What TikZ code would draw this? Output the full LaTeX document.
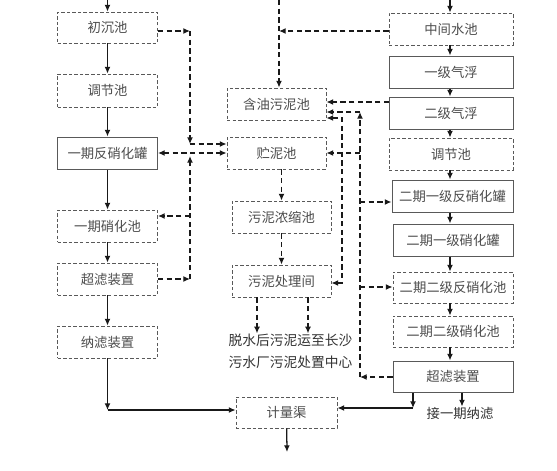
\documentclass[tikz,border=0pt]{standalone}
\usepackage{fontspec}
\setmainfont{Noto Sans CJK SC}
\usetikzlibrary{arrows.meta,calc}
\begin{document}
\begin{tikzpicture}[x=0.75pt,y=-0.75pt,
  font=\fontsize{10}{12}\selectfont,
  sz/.style 2 args={minimum width=#1*0.75pt, minimum height=#2*0.75pt},
  box/.style={draw=black!65, text=black!70, inner sep=0pt, anchor=center},
  dbox/.style={box, dash pattern=on 2.6pt off 1.6pt, line width=0.6pt},
  sbox/.style={box, line width=0.75pt},
  ar/.style={draw=black!90, line width=0.95pt, -{Latex[length=5pt,width=4.4pt]}},
  dar/.style={ar, dash pattern=on 4pt off 2.5pt},
  dar2/.style={dar, {Latex[length=5pt,width=4.4pt]}-{Latex[length=5pt,width=4.4pt]}},
  lbl/.style={text=black!80, inner sep=0pt}
]
\useasboundingbox (0,0) rectangle (557,471);

% left column
\node[dbox, sz={100}{31}] (n1) at (107.5,27.5) {初沉池};
\node[dbox, sz={100}{33}] (n2) at (107.5,90.5) {调节池};
\node[sbox, sz={100}{32}] (n3) at (107.5,153) {一期反硝化罐};
\node[dbox, sz={100}{32}] (n4) at (107.5,226) {一期硝化池};
\node[dbox, sz={100}{32}] (n5) at (107.5,279) {超滤装置};
\node[dbox, sz={100}{32}] (n6) at (107.5,342) {纳滤装置};

% middle column
\node[dbox, sz={99}{32}] (m1) at (276.5,104) {含油污泥池};
\node[dbox, sz={99}{32}] (m2) at (276.5,153) {贮泥池};
\node[dbox, sz={99}{32}] (m3) at (281.5,217) {污泥浓缩池};
\node[dbox, sz={99}{32}] (m4) at (281.5,281) {污泥处理间};
\node[lbl, align=center, font=\fontsize{10.3}{16.5}\selectfont] (tx) at (290.5,351) {脱水后污泥运至长沙\\污水厂污泥处置中心};
\node[dbox, sz={101}{31}] (jl) at (286.5,412.5) {计量渠};

% right column
\node[dbox, sz={124}{32}] (r1) at (451,29) {中间水池};
\node[sbox, sz={124}{32}] (r2) at (451,72) {一级气浮};
\node[sbox, sz={124}{32}] (r3) at (451,113) {二级气浮};
\node[dbox, sz={124}{32}] (r4) at (451,154) {调节池};
\node[sbox, sz={121}{32}] (r5) at (452.5,196) {二期一级反硝化罐};
\node[sbox, sz={120}{32}] (r6) at (453,240) {二期一级硝化罐};
\node[dbox, sz={120}{31}] (r7) at (453,287.5) {二期二级反硝化池};
\node[dbox, sz={120}{31}] (r8) at (453,331.5) {二期二级硝化池};
\node[sbox, sz={120}{31}] (r9) at (453,376.5) {超滤装置};
\node[lbl] (jy) at (460,413) {接一期纳滤};

% coordinates
\coordinate (s1) at (107.5,0);
\coordinate (s2) at (450,0);
\coordinate (s3) at (287,452);
\coordinate (c1) at (107.5,410);
\coordinate (c2) at (413,408);
\coordinate (a1) at (190,31);
\coordinate (a2) at (190,144);
\coordinate (a3) at (190,279);
\coordinate (a4) at (190,156);
\coordinate (a5) at (190,216);
\coordinate (b1) at (279,0);
\coordinate (b2) at (389,102);
\coordinate (b3) at (279,31);
\coordinate (d1) at (360,377);
\coordinate (d2) at (360,112);
\coordinate (d3) at (360,153);
\coordinate (d4) at (360,202);
\coordinate (d5) at (360,287);
\coordinate (e1) at (342,118);
\coordinate (e2) at (342,283);

% solid flow, left
\draw[ar] (s1) -- (n1.north);
\draw[ar] (n1) -- (n2);
\draw[ar] (n2) -- (n3);
\draw[ar] (n3) -- (n4);
\draw[ar] (n4) -- (n5);
\draw[ar] (n5) -- (n6);
\draw[ar] (n6) -- (c1);
\draw[ar] (c1) -- (c1 -| jl.west);
\draw[ar] (jl) -- (s3);

% solid flow, right
\draw[ar] (s2) -- (s2 |- r1.north);
\draw[ar] (s2 |- r1.south) -- (s2 |- r2.north);
\draw[ar] (s2 |- r2.south) -- (s2 |- r3.north);
\draw[ar] (s2 |- r3.south) -- (s2 |- r4.north);
\draw[ar] (s2 |- r4.south) -- (s2 |- r5.north);
\draw[ar] (s2 |- r5.south) -- (s2 |- r6.north);
\draw[ar] (s2 |- r6.south) -- (s2 |- r7.north);
\draw[ar] (s2 |- r7.south) -- (s2 |- r8.north);
\draw[ar] (s2 |- r8.south) -- (s2 |- r9.north);
\draw[ar] (c2 |- r9.south) -- (c2);
\draw[ar] (c2) -- (c2 -| jl.east);
\draw[ar] (462,0 |- r9.south) -- (462,0 |- jy.north);

% dashed, left bus
\draw[dar] (a1 -| n1.east) -- (a1);
\draw[dar] (a1) -- (a2);
\draw[dar] (a2) -- (a2 -| m2.west);
\draw[dar2] (n3.east) -- (n3.east -| m2.west);
\draw[dar] (a3 -| n5.east) -- (a3);
\draw[dar] (a3) -- (a4);
\draw[dar] (a5) -- (a5 -| n4.east);

% dashed, middle
\draw[dar] (b1) -- (b1 |- m1.north);
\draw[dar] (b3 -| r1.west) -- (b3);
\draw[dar] (b2) -- (b2 -| m1.east);
\draw[dar] (m3.north |- m2.south) -- (m3.north);
\draw[dar] (m3) -- (m4);
\draw[dar] (257,0 |- m4.south) -- (257,0 |- tx.north);
\draw[dar] (308,0 |- m4.south) -- (308,0 |- tx.north);
\draw[dar2] (e1 -| m1.east) -- (e1) -- (e2) -- (e2 -| m4.east);

% dashed, right bus
\draw[dar] (d1 -| r9.west) -- (d1);
\draw[dar] (d1) -- (d2);
\draw[dar] (d2) -- (d2 -| m1.east);
\draw[dar] (d3) -- (d3 -| m2.east);
\draw[dar] (d4) -- (d4 -| r5.west);
\draw[dar] (d5) -- (d5 -| r7.west);
\end{tikzpicture}
\end{document}
